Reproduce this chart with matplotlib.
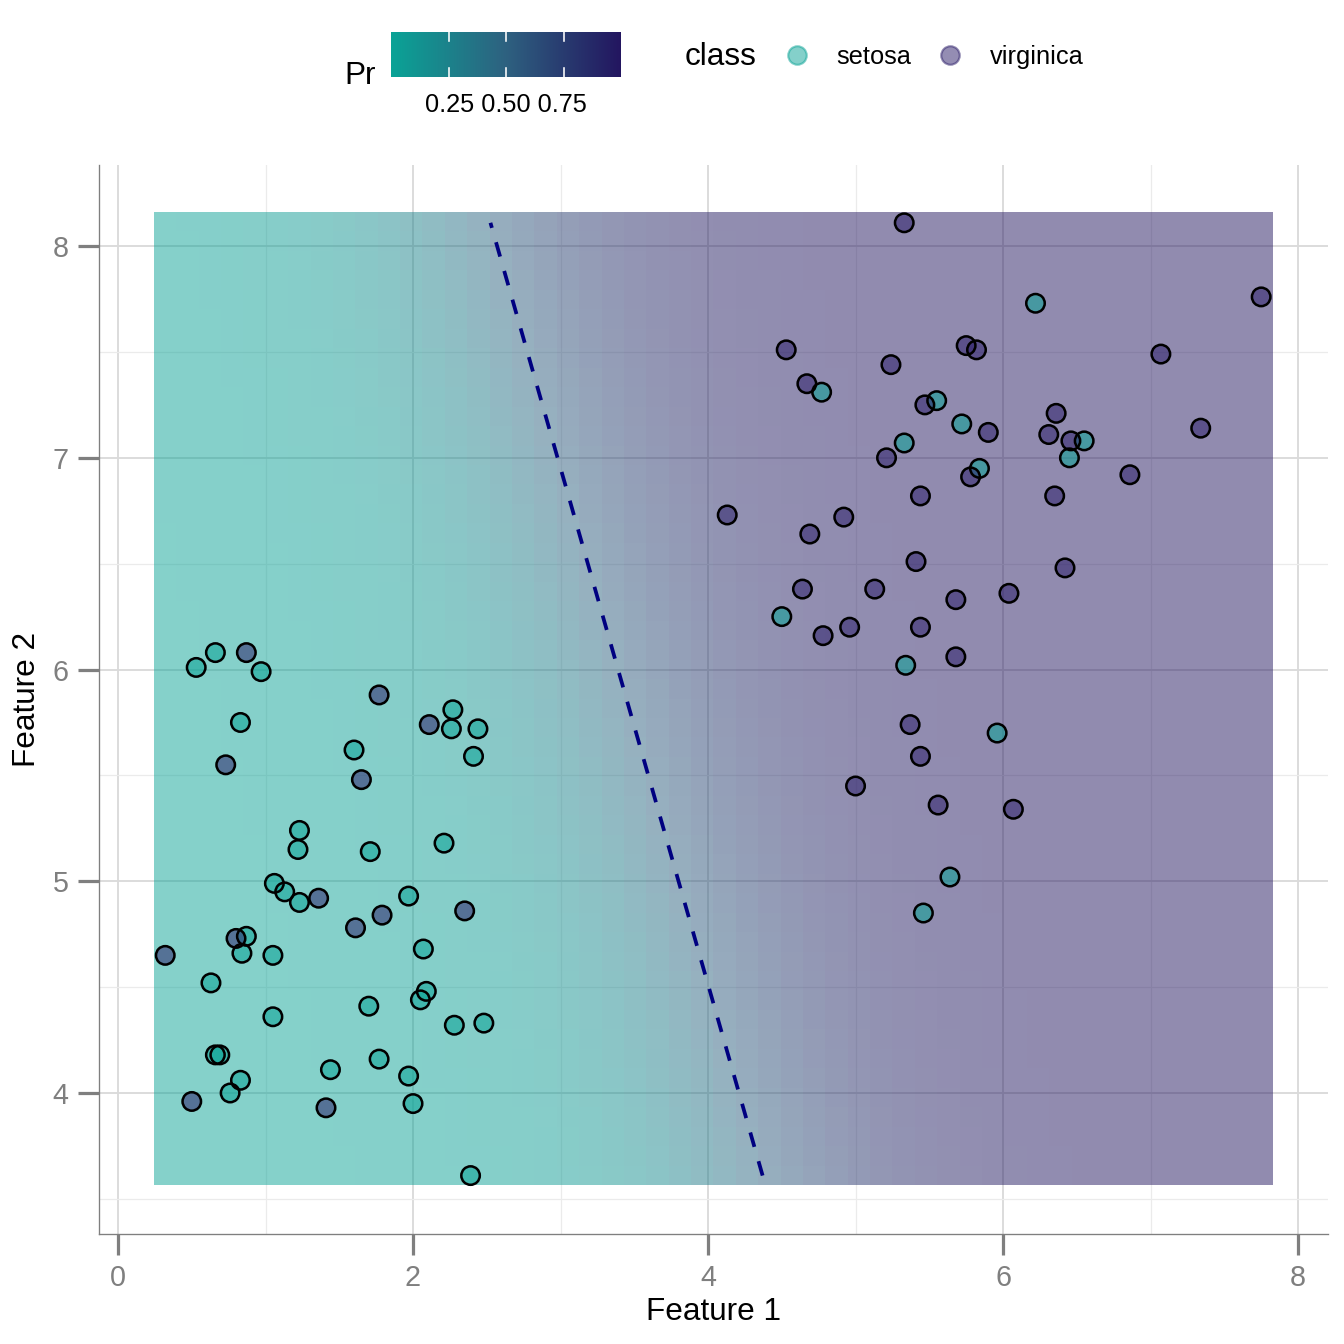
import numpy as np
import matplotlib
matplotlib.use("Agg")
import matplotlib.pyplot as plt
from matplotlib.colors import LinearSegmentedColormap

plt.rcParams['font.family'] = ['Liberation Sans', 'DejaVu Sans']

# points
setosa_x = [0.66, 0.53, 0.97, 2.27, 2.26, 2.44, 0.83, 1.60, 2.41, 1.23, 1.22, 1.71,
            2.21, 1.06, 1.13, 1.23, 1.97, 0.87, 0.84, 1.05, 2.07, 0.63, 2.09, 2.05,
            1.70, 1.05, 2.28, 2.48, 0.66, 0.69, 1.77, 1.44, 1.97, 0.83, 0.76, 2.00,
            2.39,
            4.77, 5.55, 5.72, 5.33, 5.84, 6.22, 6.55, 6.45, 4.50, 5.34, 5.96, 5.64,
            5.46]
setosa_y = [6.08, 6.01, 5.99, 5.81, 5.72, 5.72, 5.75, 5.62, 5.59, 5.24, 5.15, 5.14,
            5.18, 4.99, 4.95, 4.90, 4.93, 4.74, 4.66, 4.65, 4.68, 4.52, 4.48, 4.44,
            4.41, 4.36, 4.32, 4.33, 4.18, 4.18, 4.16, 4.11, 4.08, 4.06, 4.00, 3.95,
            3.61,
            7.31, 7.27, 7.16, 7.07, 6.95, 7.73, 7.08, 7.00, 6.25, 6.02, 5.70, 5.02,
            4.85]
virginica_x = [0.87, 1.77, 2.11, 0.73, 1.65, 1.36, 1.79, 2.35, 1.61, 0.80, 0.32, 0.50,
               1.41,
               5.33, 4.53, 4.67, 5.75, 5.82, 5.24, 5.47, 5.90, 5.21, 5.78, 5.44, 4.13,
               4.92, 4.69, 7.75, 7.07, 6.36, 6.31, 6.46, 7.34, 6.86, 6.35, 5.41, 4.64,
               5.13, 5.68, 6.04, 4.78, 4.96, 5.44, 5.68, 5.37, 5.44, 5.00, 5.56, 6.07,
               6.42]
virginica_y = [6.08, 5.88, 5.74, 5.55, 5.48, 4.92, 4.84, 4.86, 4.78, 4.73, 4.65, 3.96,
               3.93,
               8.11, 7.51, 7.35, 7.53, 7.51, 7.44, 7.25, 7.12, 7.00, 6.91, 6.82, 6.73,
               6.72, 6.64, 7.76, 7.49, 7.21, 7.11, 7.08, 7.14, 6.92, 6.82, 6.51, 6.38,
               6.38, 6.33, 6.36, 6.16, 6.20, 6.20, 6.06, 5.74, 5.59, 5.45, 5.36, 5.34,
               6.48]

# logistic model for Pr(virginica), estimated from the boundary and gradient
b0, b1, b2 = -11.7, 2.0, 0.82

col_low = '#0AA396'
col_high = '#231660'
col_virg = '#2A1C68'
cmap = LinearSegmentedColormap.from_list('pr', [col_low, '#2E6180', col_high])

fig = plt.figure(figsize=(7, 7), dpi=192)
ax = fig.add_axes([99 / 1344, 110 / 1344, 1229 / 1344, 1069 / 1344])

all_x = np.array(setosa_x + virginica_x)
all_y = np.array(setosa_y + virginica_y)
gx = np.linspace(all_x.min(), all_x.max(), 50)
gy = np.linspace(all_y.min(), all_y.max(), 50)
XX, YY = np.meshgrid(gx, gy)
pr = 1 / (1 + np.exp(-(b0 + b1 * XX + b2 * YY)))
dx = (gx[1] - gx[0]) / 2
dy = (gy[1] - gy[0]) / 2
ax.imshow(pr, cmap=cmap, vmin=0, vmax=1, alpha=0.5, origin='lower',
          extent=(gx[0] - dx, gx[-1] + dx, gy[0] - dy, gy[-1] + dy),
          interpolation='nearest', aspect='auto', zorder=1)

# decision boundary Pr = 0.5
by = np.array([all_y.min(), all_y.max()])
bx = -(b0 + b2 * by) / b1
ax.plot(bx, by, color='#000080', lw=1.4, dashes=(4, 4), zorder=3)

ax.scatter(setosa_x, setosa_y, s=48, facecolor=col_low, alpha=0.55,
           edgecolor='none', zorder=4)
ax.scatter(setosa_x, setosa_y, s=48, facecolor='none', edgecolor='black',
           lw=0.95, zorder=5)
ax.scatter(virginica_x, virginica_y, s=48, facecolor=col_virg, alpha=0.52,
           edgecolor='none', zorder=4)
ax.scatter(virginica_x, virginica_y, s=48, facecolor='none', edgecolor='black',
           lw=0.95, zorder=5)

ax.set_xlim(-0.129, 8.203)
ax.set_ylim(3.334, 8.383)
ax.set_xticks([0, 2, 4, 6, 8])
ax.set_yticks([4, 5, 6, 7, 8])
ax.set_xticks([1, 3, 5, 7], minor=True)
ax.set_yticks([3.5, 4.5, 5.5, 6.5, 7.5], minor=True)
ax.grid(True, which='major', color='#DADADA', lw=0.7, zorder=0)
ax.grid(True, which='minor', color='#EBEBEB', lw=0.45, zorder=0)
ax.set_axisbelow(True)
for s in ['top', 'right']:
    ax.spines[s].set_visible(False)
for s in ['left', 'bottom']:
    ax.spines[s].set_color('#7F7F7F')
    ax.spines[s].set_linewidth(0.5)
ax.tick_params(which='major', length=7.8, width=1.2, color='#7F7F7F',
               labelcolor='#7F7F7F', labelsize=10.8, pad=3.5)
ax.tick_params(which='minor', length=0)
ax.set_xlabel('Feature 1', fontsize=11.8, labelpad=2)
ax.set_ylabel('Feature 2', fontsize=11.8, labelpad=4)

# legends drawn in pixel space
lg = fig.add_axes([0, 0, 1, 1])
lg.set_xlim(0, 1344)
lg.set_ylim(1344, 0)
lg.axis('off')

cax = fig.add_axes([391 / 1344, (1344 - 77) / 1344, 230 / 1344, 45 / 1344])
cax.imshow(np.linspace(0, 1, 256)[None, :], cmap=cmap, aspect='auto',
           extent=(0, 1, 0, 1))
cax.set_xlim(0, 1)
cax.set_ylim(0, 1)
for t in [0.25, 0.5, 0.75]:
    cax.plot([t, t], [0, 0.2], color='white', lw=0.6)
    cax.plot([t, t], [0.8, 1], color='white', lw=0.6)
cax.axis('off')

lg.text(360, 76, 'Pr', fontsize=11.8, ha='center', va='center')
lg.text(506, 105, '0.25 0.50 0.75', fontsize=9.5, ha='center', va='center')

lg.text(685, 57, 'class', fontsize=11.8, ha='left', va='center')
lg.scatter([797], [55], s=48, facecolor=col_low, edgecolor=col_low,
           alpha=0.5, lw=0.8)
lg.text(836, 57, 'setosa', fontsize=9.5, ha='left', va='center')
lg.scatter([950], [55], s=48, facecolor=col_virg, edgecolor=col_virg,
           alpha=0.5, lw=0.8)
lg.text(990, 57, 'virginica', fontsize=9.5, ha='left', va='center')

fig.savefig('out.png', dpi=192)
